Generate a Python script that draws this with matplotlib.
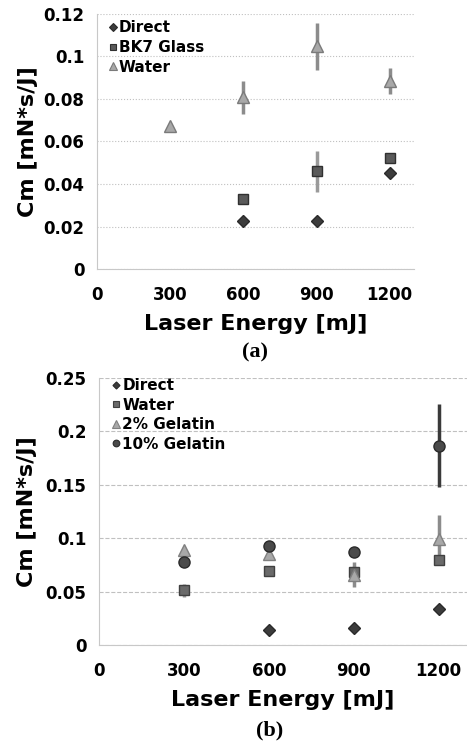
import matplotlib.pyplot as plt
from matplotlib.lines import Line2D

# panel (a)
energy_a = [300, 600, 900, 1200]
direct_a = [None, 0.0227, 0.0226, 0.0451]
bk7_a = [None, 0.0331, 0.0459, 0.0523]
bk7_a_err = [0, 0.002, 0.0098, 0.002]
water_a = [0.0674, 0.0808, 0.1047, 0.0885]
water_a_err = [0, 0.0077, 0.011, 0.0063]

# panel (b)
energy_b = [300, 600, 900, 1200]
direct_b = [None, 0.0144, 0.0159, 0.0334]
water_b = [0.0512, 0.0696, 0.0684, 0.0793]
water_b_err = [0.006, 0.002, 0.006, 0.003]
gel2_b = [0.0893, 0.0852, 0.0659, 0.0996]
gel2_b_err = [0.002, 0.006, 0.012, 0.022]
gel10_b = [0.0777, 0.0924, 0.0868, 0.1866]
gel10_b_err = [0.002, 0.002, 0.004, 0.039]

xticks = [0, 300, 600, 900, 1200]


def clean(xs, ys, errs=None):
    pts = [(x, y, (errs[i] if errs else 0)) for i, (x, y) in enumerate(zip(xs, ys)) if y is not None]
    return [p[0] for p in pts], [p[1] for p in pts], [p[2] for p in pts]


def series(ax, xs, ys, errs, marker, color, edge, ms, label, ecolor=None):
    x, y, e = clean(xs, ys, errs)
    ax.errorbar(x, y, yerr=e if errs else None, fmt=marker, color=color, mec=edge, mew=1,
                ms=ms, ecolor=ecolor or color, elinewidth=2.5, capsize=0, zorder=3)
    # small marker-only handle for the legend
    return Line2D([], [], ls='none', marker=marker, color=color, mec=edge, mew=0.8,
                  ms=ms * 0.6, label=label)


def style(ax, handles, ymax, ystep, ls, leg_anchor):
    ax.set_xlim(0, 1300)
    ax.set_ylim(0, ymax)
    ax.set_xticks(xticks)
    yt = [i * ystep for i in range(int(round(ymax / ystep)) + 1)]
    ax.set_yticks(yt)
    ax.set_yticklabels(['0' if v == 0 else ('%.2f' % v).rstrip('0') for v in yt])
    for s in ['top', 'right']:
        ax.spines[s].set_visible(False)
    for s in ['left', 'bottom']:
        ax.spines[s].set_color('#c8c8c8')
    ax.grid(axis='y', color='#c0c0c0', linestyle=ls, linewidth=0.8)
    ax.set_axisbelow(True)
    ax.tick_params(length=0, labelsize=12)
    ax.tick_params(axis='x', pad=12)
    ax.tick_params(axis='y', pad=9)
    for lab in ax.get_xticklabels() + ax.get_yticklabels():
        lab.set_fontweight('bold')
    ax.set_ylabel('Cm [mN*s/J]', fontsize=16, fontweight='bold')
    ax.set_xlabel('Laser Energy [mJ]', fontsize=16, fontweight='bold')
    ax.legend(handles=handles, loc='upper left', frameon=False, prop={'weight': 'bold', 'size': 11},
              handletextpad=0.0, handlelength=0.8, labelspacing=0.3, borderaxespad=0.0,
              borderpad=0.0, bbox_to_anchor=leg_anchor)


fig = plt.figure(figsize=(4.67, 7.51), dpi=100)

ax1 = fig.add_axes([0.2077, 0.6418, 0.679, 0.3396])
h1 = [
    series(ax1, energy_a, direct_a, None, 'D', '#3c3c3c', '#2a2a2a', 6.5, 'Direct'),
    series(ax1, energy_a, bk7_a, bk7_a_err, 's', '#5a5a5a', '#303030', 7.5, 'BK7 Glass', ecolor='#9a9a9a'),
    series(ax1, energy_a, water_a, water_a_err, '^', '#a8a8a8', '#7a7a7a', 9, 'Water', ecolor='#8c8c8c'),
]
style(ax1, h1, 0.12, 0.02, ':', (0.03, 0.975))
ax1.yaxis.set_label_coords(-0.185, 0.5)
ax1.xaxis.set_label_coords(0.5, -0.175)

ax2 = fig.add_axes([0.212, 0.1411, 0.788, 0.3556])
h2 = [
    series(ax2, energy_b, direct_b, None, 'D', '#3c3c3c', '#2a2a2a', 6, 'Direct'),
    series(ax2, energy_b, water_b, water_b_err, 's', '#6a6a6a', '#404040', 7.5, 'Water', ecolor='#9a9a9a'),
    series(ax2, energy_b, gel2_b, gel2_b_err, '^', '#a8a8a8', '#808080', 9, '2% Gelatin', ecolor='#8c8c8c'),
    series(ax2, energy_b, gel10_b, gel10_b_err, 'o', '#4a4a4a', '#2a2a2a', 8, '10% Gelatin', ecolor='#3a3a3a'),
]
style(ax2, h2, 0.25, 0.05, '--', (0.03, 1.0))
ax2.yaxis.set_label_coords(-0.168, 0.5)
ax2.xaxis.set_label_coords(0.5, -0.17)

fig.text(0.546, 1 - 352 / 751, '(a)', family='Liberation Serif', fontweight='bold', fontsize=16,
         ha='center', va='center')
fig.text(0.578, 1 - 730 / 751, '(b)', family='Liberation Serif', fontweight='bold', fontsize=16,
         ha='center', va='center')

fig.savefig('out.png', dpi=100)
